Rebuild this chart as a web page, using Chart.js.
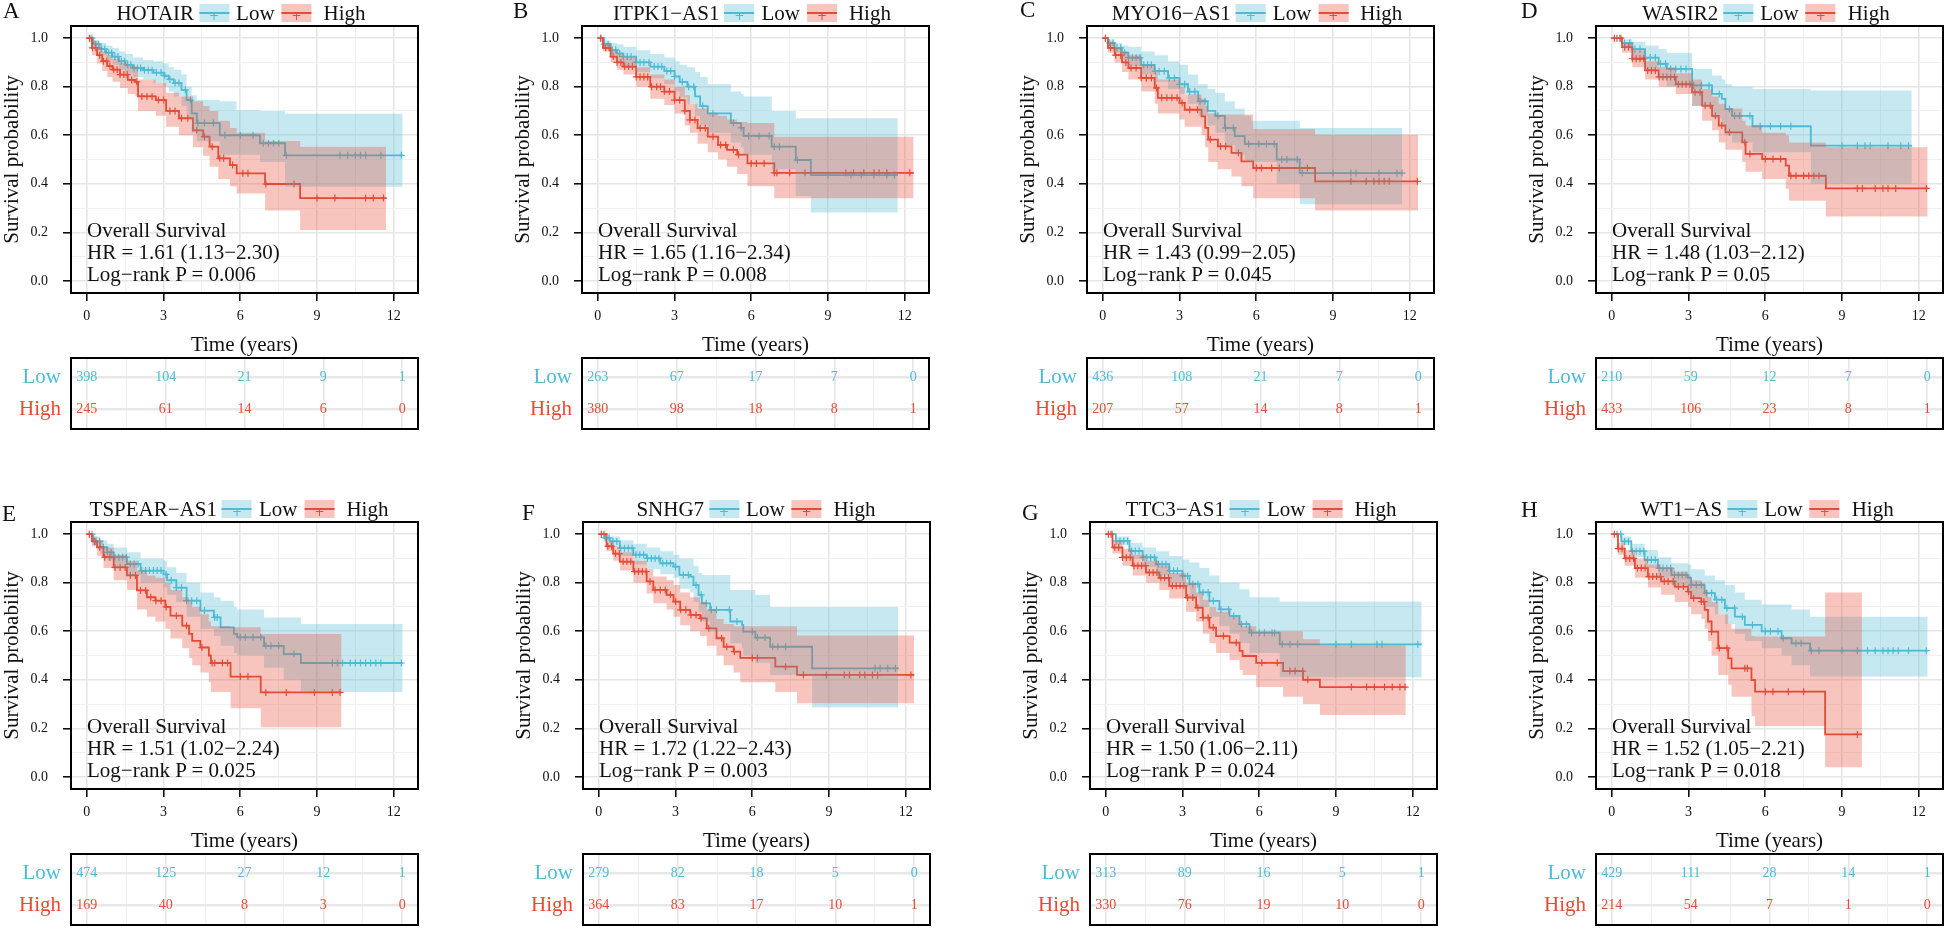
<!DOCTYPE html>
<html>
<head>
<meta charset="utf-8">
<script src="https://cdn.jsdelivr.net/npm/chart.js@4.4.1/dist/chart.umd.min.js"></script>
<style>
html, body { margin: 0; padding: 0; background: #fff; overflow: hidden; }
body { width: 1944px; height: 928px; position: relative; font-family: "Liberation Serif", "Times New Roman", serif; color: #111; }
canvas { position: absolute; }
.letter { position: absolute; font-size: 23px; line-height: 24px; }
.head { position: absolute; height: 26px; display: flex; align-items: center; font-size: 21px; white-space: nowrap; transform: translateX(-50%); }
.key { position: relative; display: inline-block; width: 30px; height: 18px; }
.key .ln { position: absolute; left: 0; right: 0; top: 8px; height: 2px; }
.key .pl { position: absolute; left: 0; right: 0; top: 3px; text-align: center; font: 12px "DejaVu Sans", sans-serif; line-height: 18px; }
.note { position: absolute; font-size: 21px; line-height: 22px; white-space: nowrap; }
</style>
</head>
<body>
<script>
// ---- data ----
const genes = ['HOTAIR', 'ITPK1−AS1', 'MYO16−AS1', 'WASIR2', 'TSPEAR−AS1', 'SNHG7', 'TTC3−AS1', 'WT1−AS'];
const letters = ['A', 'B', 'C', 'D', 'E', 'F', 'G', 'H'];
const hrText = ['1.61 (1.13−2.30)', '1.65 (1.16−2.34)', '1.43 (0.99−2.05)', '1.48 (1.03−2.12)',
                '1.51 (1.02−2.24)', '1.72 (1.22−2.43)', '1.50 (1.06−2.11)', '1.52 (1.05−2.21)'];
const pText = ['0.006', '0.008', '0.045', '0.05', '0.025', '0.003', '0.024', '0.018'];
const strata = ['Low', 'High'];

const riskTimes = [0, 3, 6, 9, 12];
const riskLow = [[398, 104, 21, 9, 1], [263, 67, 17, 7, 0], [436, 108, 21, 7, 0], [210, 59, 12, 7, 0],
                 [474, 125, 27, 12, 1], [279, 82, 18, 5, 0], [313, 89, 16, 5, 1], [429, 111, 28, 14, 1]];
const riskHigh = [[245, 61, 14, 6, 0], [380, 98, 18, 8, 1], [207, 57, 14, 8, 1], [433, 106, 23, 8, 1],
                  [169, 40, 8, 3, 0], [364, 83, 17, 10, 1], [330, 76, 19, 10, 0], [214, 54, 7, 1, 0]];

const xMajor = [0, 3, 6, 9, 12];
const xTickLabels = ['0', '3', '6', '9', '12'];
const xGrid = [0, 1.5, 3, 4.5, 6, 7.5, 9, 10.5, 12];
const yMajor = [0, 0.2, 0.4, 0.6, 0.8, 1.0];
const yTickLabels = ['0.0', '0.2', '0.4', '0.6', '0.8', '1.0'];
const yGrid = [0, 0.1, 0.2, 0.3, 0.4, 0.5, 0.6, 0.7, 0.8, 0.9, 1.0];

// curves: [time, survival, lower CI, upper CI]
const lowA = [[0,1,1,1],[0.25,0.975,0.955,0.99],[0.5,0.955,0.93,0.98],[0.75,0.94,0.91,0.97],[1.0,0.924,0.89,0.96],
  [1.25,0.905,0.87,0.945],[1.5,0.89,0.855,0.935],[1.8,0.877,0.84,0.92],[2.2,0.868,0.83,0.91],[2.6,0.858,0.815,0.905],
  [3.0,0.845,0.80,0.897],[3.2,0.83,0.78,0.88],[3.4,0.815,0.76,0.87],[3.7,0.787,0.72,0.85],[3.9,0.745,0.67,0.80],
  [4.1,0.69,0.61,0.765],[4.3,0.65,0.575,0.745],[5.2,0.60,0.52,0.74],[5.85,0.60,0.52,0.704],[6.77,0.567,0.49,0.70],
  [7.75,0.517,0.388,0.688],[12.35,0.517,0.388,0.688]];
const highA = [[0,1,1,1],[0.2,0.96,0.93,0.99],[0.4,0.93,0.895,0.965],[0.6,0.905,0.865,0.945],[0.8,0.885,0.84,0.93],
  [1.0,0.87,0.82,0.915],[1.3,0.85,0.795,0.9],[1.6,0.828,0.77,0.885],[1.9,0.82,0.76,0.88],[2.0,0.76,0.70,0.83],
  [2.7,0.745,0.68,0.815],[3.1,0.70,0.635,0.775],[3.6,0.67,0.60,0.76],[4.15,0.62,0.55,0.74],[4.55,0.594,0.515,0.72],
  [4.8,0.553,0.47,0.70],[5.14,0.505,0.42,0.66],[5.6,0.477,0.39,0.63],[5.86,0.443,0.36,0.61],[6.97,0.399,0.29,0.576],
  [8.34,0.341,0.21,0.553],[11.7,0.341,0.21,0.553]];
const lowB = [[0,1,1,1],[0.25,0.975,0.96,0.99],[0.5,0.952,0.93,0.98],[0.75,0.937,0.905,0.975],[1.0,0.924,0.885,0.965],
  [1.5,0.90,0.86,0.95],[2.05,0.883,0.835,0.935],[2.6,0.865,0.81,0.92],[3.0,0.842,0.78,0.905],[3.2,0.82,0.755,0.89],
  [3.5,0.80,0.73,0.88],[3.8,0.76,0.68,0.86],[4.0,0.72,0.64,0.84],[4.3,0.69,0.61,0.81],[5.2,0.65,0.57,0.78],
  [5.6,0.63,0.55,0.77],[5.7,0.597,0.52,0.76],[6.8,0.553,0.46,0.70],[7.74,0.498,0.35,0.67],[8.33,0.436,0.282,0.67],
  [11.73,0.436,0.282,0.67]];
const highB = [[0,1,1,1],[0.2,0.96,0.945,0.98],[0.5,0.924,0.9,0.95],[0.75,0.9,0.87,0.935],[1.0,0.883,0.85,0.92],
  [1.5,0.84,0.80,0.88],[2.05,0.80,0.75,0.85],[2.6,0.78,0.725,0.83],[3.0,0.745,0.69,0.80],[3.4,0.70,0.64,0.765],
  [3.6,0.663,0.61,0.73],[3.9,0.629,0.565,0.71],[4.3,0.594,0.53,0.69],[4.7,0.56,0.50,0.68],[5.05,0.54,0.47,0.665],
  [5.45,0.52,0.44,0.655],[5.85,0.484,0.39,0.65],[6.9,0.445,0.34,0.594],[12.35,0.445,0.34,0.594]];
const lowC = [[0,1,1,1],[0.2,0.98,0.97,0.995],[0.46,0.96,0.94,0.98],[0.75,0.94,0.91,0.97],[1.0,0.92,0.885,0.965],
  [1.5,0.89,0.85,0.945],[2.03,0.864,0.82,0.93],[2.55,0.836,0.79,0.905],[3.0,0.81,0.77,0.89],[3.33,0.78,0.73,0.85],
  [3.73,0.74,0.68,0.81],[4.1,0.70,0.64,0.79],[4.4,0.68,0.61,0.775],[4.77,0.63,0.56,0.74],[5.16,0.596,0.52,0.71],
  [5.55,0.564,0.49,0.68],[5.8,0.564,0.49,0.66],[6.8,0.50,0.40,0.66],[7.7,0.444,0.316,0.63],[11.7,0.444,0.316,0.63]];
const highC = [[0,1,1,1],[0.2,0.96,0.94,0.985],[0.46,0.93,0.9,0.96],[0.75,0.9,0.86,0.945],[1.0,0.877,0.83,0.93],
  [1.5,0.836,0.78,0.89],[2.03,0.795,0.73,0.86],[2.15,0.754,0.69,0.83],[3.0,0.733,0.665,0.80],[3.2,0.705,0.635,0.768],
  [3.86,0.678,0.60,0.75],[4.0,0.63,0.55,0.72],[4.12,0.582,0.49,0.69],[4.5,0.554,0.46,0.685],[5.03,0.527,0.43,0.685],
  [5.42,0.492,0.39,0.685],[5.88,0.465,0.34,0.626],[8.3,0.41,0.29,0.602],[12.33,0.41,0.29,0.602]];
const lowD = [[0,1,1,1],[0.4,0.98,0.96,0.995],[0.8,0.955,0.92,0.985],[1.3,0.92,0.87,0.97],[1.83,0.894,0.83,0.955],
  [2.15,0.873,0.80,0.94],[3.14,0.805,0.72,0.873],[3.92,0.77,0.67,0.846],[4.3,0.75,0.64,0.83],[4.44,0.708,0.60,0.81],
  [4.7,0.68,0.57,0.80],[5.5,0.637,0.53,0.79],[7.78,0.557,0.40,0.784],[11.73,0.557,0.40,0.784]];
const highD = [[0,1,1,1],[0.4,0.963,0.94,0.98],[0.8,0.915,0.88,0.95],[1.3,0.867,0.83,0.905],[1.83,0.84,0.80,0.88],
  [2.5,0.81,0.77,0.855],[3.14,0.777,0.72,0.83],[3.53,0.722,0.66,0.79],[3.92,0.68,0.62,0.76],[4.18,0.64,0.57,0.73],
  [4.44,0.612,0.54,0.71],[5.1,0.571,0.49,0.66],[5.23,0.523,0.45,0.64],[5.88,0.502,0.42,0.61],[6.8,0.475,0.38,0.60],
  [6.93,0.433,0.33,0.57],[8.37,0.381,0.265,0.55],[12.35,0.381,0.265,0.55]];
const lowE = [[0,1,1,1],[0.25,0.97,0.955,0.99],[0.52,0.946,0.92,0.975],[0.8,0.925,0.89,0.96],[1.05,0.905,0.865,0.945],
  [1.57,0.877,0.83,0.925],[2.1,0.85,0.80,0.90],[3.0,0.834,0.78,0.89],[3.14,0.81,0.75,0.864],[3.5,0.78,0.72,0.84],
  [3.9,0.726,0.66,0.80],[4.44,0.685,0.61,0.76],[4.97,0.657,0.58,0.74],[5.23,0.616,0.54,0.726],[5.75,0.589,0.51,0.70],
  [5.88,0.575,0.50,0.69],[6.93,0.54,0.45,0.657],[7.7,0.506,0.40,0.657],[8.37,0.469,0.35,0.63],[12.35,0.469,0.35,0.63]];
const highE = [[0,1,1,1],[0.2,0.97,0.95,0.99],[0.4,0.946,0.91,0.975],[0.65,0.905,0.86,0.945],[1.05,0.863,0.81,0.915],
  [1.57,0.83,0.77,0.89],[1.96,0.768,0.69,0.85],[2.35,0.74,0.66,0.83],[2.68,0.726,0.64,0.82],[3.07,0.70,0.61,0.80],
  [3.27,0.664,0.57,0.77],[3.73,0.623,0.53,0.74],[4.0,0.589,0.49,0.72],[4.12,0.56,0.46,0.70],[4.44,0.533,0.43,0.67],
  [4.77,0.50,0.39,0.64],[4.85,0.469,0.35,0.62],[5.62,0.413,0.283,0.616],[6.8,0.348,0.204,0.589],[9.96,0.348,0.204,0.589]];
const lowF = [[0,1,1,1],[0.2,0.985,0.97,0.995],[0.43,0.97,0.95,0.99],[0.82,0.942,0.91,0.975],[1.35,0.915,0.875,0.96],
  [1.87,0.90,0.855,0.945],[2.4,0.88,0.835,0.93],[2.92,0.866,0.82,0.915],[3.15,0.832,0.775,0.90],[3.57,0.825,0.76,0.90],
  [3.7,0.79,0.72,0.87],[3.9,0.75,0.68,0.84],[4.03,0.715,0.64,0.832],[4.35,0.688,0.60,0.832],[5.14,0.64,0.55,0.77],
  [5.6,0.626,0.53,0.77],[5.65,0.598,0.50,0.77],[6.12,0.574,0.47,0.75],[6.7,0.536,0.42,0.70],[8.34,0.447,0.286,0.70],
  [11.7,0.447,0.286,0.70]];
const highF = [[0,1,1,1],[0.3,0.95,0.93,0.97],[0.56,0.92,0.89,0.95],[0.82,0.887,0.85,0.925],[1.35,0.846,0.80,0.89],
  [1.87,0.805,0.755,0.855],[2.13,0.77,0.715,0.825],[2.65,0.75,0.69,0.81],[2.92,0.722,0.66,0.79],[3.18,0.688,0.625,0.76],
  [3.57,0.667,0.60,0.74],[3.96,0.653,0.58,0.72],[4.22,0.612,0.54,0.69],[4.6,0.571,0.50,0.65],[4.88,0.536,0.46,0.63],
  [5.27,0.516,0.43,0.62],[5.53,0.49,0.39,0.62],[6.9,0.454,0.35,0.62],[7.75,0.42,0.303,0.582],[12.33,0.42,0.303,0.582]];
const lowG = [[0,1,1,1],[0.39,0.972,0.955,0.99],[0.92,0.931,0.9,0.965],[1.44,0.904,0.865,0.945],[1.96,0.876,0.83,0.93],
  [2.48,0.849,0.80,0.91],[3.0,0.828,0.78,0.895],[3.27,0.794,0.74,0.883],[3.66,0.76,0.70,0.86],[4.05,0.725,0.66,0.83],
  [4.44,0.69,0.62,0.80],[4.84,0.663,0.59,0.80],[5.23,0.629,0.55,0.773],[5.62,0.594,0.51,0.74],[6.8,0.546,0.41,0.722],
  [12.35,0.546,0.41,0.722]];
const highG = [[0,1,1,1],[0.26,0.945,0.92,0.97],[0.65,0.904,0.87,0.94],[1.05,0.87,0.83,0.915],[1.57,0.842,0.80,0.89],
  [2.09,0.82,0.77,0.87],[2.48,0.787,0.735,0.84],[3.14,0.739,0.68,0.80],[3.53,0.697,0.64,0.76],[3.79,0.656,0.59,0.73],
  [4.05,0.615,0.55,0.70],[4.31,0.58,0.51,0.68],[4.84,0.553,0.48,0.66],[5.23,0.519,0.44,0.63],[5.35,0.498,0.42,0.62],
  [5.88,0.47,0.37,0.60],[6.93,0.436,0.33,0.60],[7.71,0.40,0.30,0.567],[8.37,0.37,0.255,0.542],[11.73,0.37,0.255,0.542]];
const lowH = [[0,1,1,1],[0.37,0.97,0.955,0.99],[0.76,0.93,0.905,0.96],[1.28,0.894,0.86,0.935],[1.8,0.86,0.82,0.905],
  [2.33,0.832,0.79,0.88],[2.98,0.82,0.77,0.875],[3.1,0.79,0.74,0.855],[3.63,0.757,0.70,0.83],[4.03,0.73,0.67,0.81],
  [4.42,0.695,0.63,0.79],[4.81,0.66,0.59,0.76],[5.2,0.626,0.56,0.73],[5.86,0.60,0.53,0.71],[6.64,0.571,0.50,0.71],
  [7.03,0.55,0.46,0.69],[7.75,0.52,0.413,0.66],[12.35,0.52,0.413,0.66]];
const highH = [[0,1,1,1],[0.24,0.94,0.915,0.965],[0.5,0.90,0.87,0.935],[0.9,0.86,0.82,0.90],[1.41,0.825,0.78,0.875],
  [1.93,0.805,0.75,0.86],[2.46,0.784,0.72,0.845],[2.98,0.763,0.70,0.83],[3.1,0.736,0.67,0.81],[3.5,0.722,0.65,0.80],
  [3.63,0.688,0.61,0.77],[3.76,0.64,0.56,0.74],[3.9,0.598,0.50,0.72],[4.16,0.53,0.42,0.67],[4.55,0.488,0.38,0.63],
  [4.68,0.447,0.33,0.61],[5.46,0.399,0.25,0.58],[5.6,0.351,0.21,0.578],[8.34,0.175,0.04,0.76],[9.78,0.175,0.04,0.76]];

// censored times
const cLowA = [0.12,0.2,0.33,0.45,0.58,0.7,0.85,0.97,1.1,1.22,1.35,1.48,1.6,1.72,1.85,1.98,2.1,2.25,2.4,2.55,2.72,2.9,3.05,3.25,3.45,3.6,3.85,4.05,4.35,4.6,4.95,5.4,6.0,6.5,6.9,7.1,7.3,7.5,7.8,9.9,10.2,10.5,10.7,10.9,11.5,12.3];
const cHighA = [0.1,0.22,0.35,0.5,0.65,0.78,0.9,1.05,1.18,1.3,1.45,1.58,1.75,1.95,2.15,2.35,2.55,2.8,3.0,3.25,3.45,3.7,3.95,4.3,4.6,4.9,5.2,5.35,5.7,6.1,6.3,7.0,8.1,9.0,9.7,10.9,11.2,11.6];
const cLowB = [0.1,0.25,0.4,0.55,0.7,0.85,1.0,1.15,1.3,1.5,1.65,1.8,2.0,2.2,2.35,2.5,2.7,2.85,3.0,3.3,3.55,3.75,4.1,4.5,5.3,5.6,5.9,6.3,6.7,6.9,7.1,7.8,9.0,9.9,10.3,10.8,11.3,11.6];
const cHighB = [0.12,0.3,0.45,0.6,0.75,0.9,1.05,1.2,1.35,1.5,1.65,1.8,1.95,2.1,2.3,2.45,2.6,2.8,3.0,3.2,3.4,3.6,3.8,4.0,4.2,4.5,4.8,5.0,5.3,5.5,6.0,6.2,6.5,6.9,7.0,7.5,8.1,9.7,10.0,10.4,10.8,11.0,11.3,12.2];
const cLowC = [0.1,0.25,0.4,0.55,0.7,0.85,1.0,1.15,1.3,1.45,1.6,1.75,1.9,2.05,2.2,2.4,2.6,2.8,3.0,3.2,3.4,3.6,3.8,4.0,4.5,4.8,5.1,5.7,6.1,6.4,6.7,7.0,7.2,7.6,7.8,9.0,9.7,9.9,10.8,11.5,11.7];
const cHighC = [0.1,0.3,0.5,0.7,0.9,1.1,1.3,1.5,1.7,1.9,2.1,2.3,2.5,2.7,2.9,3.1,3.4,3.7,4.2,4.6,4.8,5.3,6.0,6.2,6.6,6.9,8.0,9.7,10.3,10.6,10.8,11.0,11.2,12.3];
const cLowD = [0.1,0.3,0.5,0.7,0.9,1.1,1.3,1.5,1.7,1.9,2.1,2.3,2.5,2.7,2.9,3.2,3.5,3.8,4.2,4.6,4.8,5.0,5.4,5.8,6.2,6.6,7.0,9.0,9.6,9.9,10.1,10.8,11.3,11.6];
const cHighD = [0.1,0.2,0.35,0.5,0.65,0.8,0.95,1.1,1.25,1.4,1.55,1.7,1.85,2.0,2.15,2.3,2.45,2.6,2.75,2.9,3.05,3.25,3.45,3.65,3.85,4.05,4.3,4.6,5.2,5.4,6.0,6.3,6.6,7.0,7.2,7.5,7.7,7.9,8.1,9.6,9.8,10.3,10.6,10.8,11.1,12.3];
const cLowE = [0.1,0.2,0.35,0.5,0.65,0.8,0.95,1.1,1.25,1.4,1.55,1.7,1.85,2.0,2.15,2.3,2.45,2.6,2.75,2.9,3.1,3.3,3.5,3.7,3.9,4.1,4.3,4.6,5.0,5.1,6.0,6.2,6.5,6.8,7.0,7.2,7.5,8.1,9.6,9.8,10.0,10.3,10.5,10.7,10.9,11.1,11.3,11.5,12.3];
const cHighE = [0.1,0.3,0.5,0.7,0.9,1.1,1.3,1.5,1.7,1.9,2.1,2.3,2.5,2.7,2.9,3.1,3.5,3.9,4.5,4.9,5.0,5.3,5.5,6.0,6.3,7.0,7.8,8.9,9.6,9.9];
const cLowF = [0.1,0.25,0.4,0.55,0.7,0.85,1.0,1.15,1.3,1.45,1.6,1.75,1.9,2.05,2.2,2.35,2.5,2.65,2.8,3.0,3.3,3.5,3.8,4.0,4.2,4.4,4.6,5.1,5.4,6.0,6.2,6.5,6.8,7.0,7.3,10.8,11.0,11.3,11.6];
const cHighF = [0.1,0.2,0.35,0.5,0.65,0.8,0.95,1.1,1.25,1.4,1.55,1.7,1.85,2.0,2.2,2.4,2.6,2.8,3.0,3.2,3.4,3.6,3.8,4.0,4.3,4.8,5.0,5.3,6.0,6.2,7.3,8.0,8.9,9.6,9.8,10.2,10.4,10.7,10.9,12.2];
const cLowG = [0.1,0.25,0.4,0.55,0.7,0.85,1.0,1.15,1.3,1.45,1.6,1.75,1.9,2.05,2.2,2.35,2.5,2.65,2.8,3.0,3.2,3.4,3.6,3.8,4.0,4.2,4.5,4.8,5.0,5.3,5.5,5.7,6.0,6.2,6.5,6.6,6.9,7.2,7.5,9.0,9.6,10.6,10.8,12.2];
const cHighG = [0.1,0.2,0.35,0.5,0.65,0.8,0.95,1.1,1.25,1.4,1.55,1.7,1.85,2.0,2.15,2.3,2.45,2.6,2.75,2.9,3.05,3.2,3.4,3.6,3.8,4.0,4.2,4.6,5.1,6.1,6.7,7.2,7.4,7.7,7.9,9.6,10.2,10.5,10.9,11.2,11.5,11.7];
const cLowH = [0.1,0.2,0.35,0.5,0.65,0.8,0.95,1.1,1.25,1.4,1.55,1.7,1.85,2.0,2.15,2.3,2.45,2.6,2.75,2.9,3.1,3.3,3.5,3.7,3.9,4.1,4.3,4.5,4.8,5.1,5.5,6.0,6.2,6.5,6.7,7.2,7.4,7.8,8.1,9.0,9.6,10.0,10.3,10.6,10.8,11.0,11.2,11.6,12.3];
const cHighH = [0.1,0.25,0.4,0.55,0.7,0.85,1.0,1.15,1.3,1.45,1.6,1.75,1.9,2.05,2.2,2.4,2.6,2.8,3.0,3.2,3.5,3.6,3.9,4.2,4.5,5.2,5.3,6.0,6.3,6.9,7.5,9.6];

const lowCurves = [lowA, lowB, lowC, lowD, lowE, lowF, lowG, lowH];
const highCurves = [highA, highB, highC, highD, highE, highF, highG, highH];
const lowCens = [cLowA, cLowB, cLowC, cLowD, cLowE, cLowF, cLowG, cLowH];
const highCens = [cHighA, cHighB, cHighC, cHighD, cHighE, cHighF, cHighG, cHighH];

// ---- layout ----
const originX = [0, 511, 1016, 1525, 0, 512, 1019, 1525];
const originY = [0, 0, 0, 0, 496, 496, 496, 496];
const headX = [241, 752, 1257, 1766, 239, 756, 1261, 1767];
const letterX = [3, 513, 1020, 1521, 2, 522, 1022, 1521];
const letterY = [-1, -1, -2, -1, 502, 501, 501, 498];

const LOW = '#4DBBD5', HIGH = '#E64B35';
const LOW_FILL = 'rgba(77,187,213,0.32)', HIGH_FILL = 'rgba(230,75,53,0.32)';
const SERIF = '"Liberation Serif", "Times New Roman", serif';
const near = (a, b) => Math.abs(a - b) < 1e-9;

function survAt(rows, t) {
    let s = rows[0][1];
    for (const r of rows) { if (r[0] <= t) s = r[1]; else break; }
    return s;
}

const framePlugin = {
    id: 'frame',
    afterDraw(chart) {
        const { ctx, chartArea: a } = chart;
        ctx.save();
        ctx.strokeStyle = '#000';
        ctx.lineWidth = 2;
        ctx.strokeRect(a.left, a.top, a.right - a.left, a.bottom - a.top);
        ctx.restore();
    }
};

const riskTextPlugin = {
    id: 'riskText',
    afterDatasetsDraw(chart) {
        const ctx = chart.ctx;
        chart.data.datasets.forEach((ds, i) => {
            const meta = chart.getDatasetMeta(i);
            ctx.save();
            ctx.fillStyle = ds.textColor;
            ctx.font = '14px ' + SERIF;
            ctx.textAlign = 'center';
            ctx.textBaseline = 'middle';
            meta.data.forEach((pt, j) => ctx.fillText(String(ds.data[j].n), pt.x, pt.y));
            ctx.restore();
        });
    }
};

function gridColor(isMajor) { return isMajor ? '#E6E6E6' : '#F1F1F1'; }

function makeCanvas(x, y, w, h) {
    const c = document.createElement('canvas');
    c.width = w; c.height = h;
    c.style.left = x + 'px'; c.style.top = y + 'px';
    c.style.width = w + 'px'; c.style.height = h + 'px';
    document.body.appendChild(c);
    return c;
}

function kmChart(p) {
    const low = lowCurves[p], high = highCurves[p];
    const pts = (rows, k) => rows.map(r => ({ x: r[0], y: r[k] }));
    // 'before': hold the previous value, then drop at the new time
    const band = (rows, k, fill, color, order) => ({
        data: pts(rows, k), stepped: 'before', borderWidth: 0, borderColor: 'rgba(0,0,0,0)',
        pointRadius: 0, fill: fill, backgroundColor: color, order: order
    });
    const line = (rows, color) => ({
        data: pts(rows, 1), stepped: 'before', borderColor: color, borderWidth: 1.8,
        pointRadius: 0, fill: false, order: 2
    });
    const marks = (cens, rows, color) => ({
        data: cens.map(t => ({ x: t, y: survAt(rows, t) })), showLine: false,
        pointStyle: 'cross', pointRadius: 3.5, borderColor: color, borderWidth: 1.2, order: 3
    });

    const canvas = makeCanvas(originX[p], originY[p], 426, 359);
    new Chart(canvas, {
        type: 'line',
        data: {
            datasets: [
                band(high, 3, '+1', HIGH_FILL, 0),
                band(high, 2, false, HIGH_FILL, 0),
                band(low, 3, '+1', LOW_FILL, 1),
                band(low, 2, false, LOW_FILL, 1),
                line(high, HIGH),
                line(low, LOW),
                marks(highCens[p], high, HIGH),
                marks(lowCens[p], low, LOW)
            ]
        },
        options: {
            responsive: false,
            devicePixelRatio: 1,
            animation: false,
            events: [],
            layout: { padding: { top: 26, right: 8, left: 0, bottom: 0 } },
            plugins: { legend: { display: false }, tooltip: { enabled: false } },
            scales: {
                x: {
                    type: 'linear', min: -0.62, max: 12.95,
                    afterBuildTicks: ax => { ax.ticks = xGrid.map(v => ({ value: v })); },
                    afterFit: ax => { ax.height = 66; },
                    border: { display: false },
                    grid: {
                        color: c => gridColor(xMajor.some(v => near(v, c.tick.value))),
                        lineWidth: c => xMajor.some(v => near(v, c.tick.value)) ? 1.6 : 1,
                        tickColor: c => xMajor.some(v => near(v, c.tick.value)) ? '#000' : 'rgba(0,0,0,0)',
                        tickLength: 8, tickWidth: 1.5
                    },
                    ticks: {
                        autoSkip: false, maxRotation: 0, padding: 7, color: '#111',
                        font: { family: SERIF, size: 14 },
                        callback: v => { const i = xMajor.findIndex(m => near(m, v)); return i >= 0 ? xTickLabels[i] : ''; }
                    },
                    title: { display: true, text: 'Time (years)', color: '#111', font: { family: SERIF, size: 21 }, padding: { top: 0, bottom: 1 } }
                },
                y: {
                    type: 'linear', min: -0.05, max: 1.05,
                    afterBuildTicks: ax => { ax.ticks = yGrid.map(v => ({ value: v })); },
                    afterFit: ax => { ax.width = 71; },
                    border: { display: false },
                    grid: {
                        color: c => gridColor(yMajor.some(v => near(v, c.tick.value))),
                        lineWidth: c => yMajor.some(v => near(v, c.tick.value)) ? 1.6 : 1,
                        tickColor: c => yMajor.some(v => near(v, c.tick.value)) ? '#000' : 'rgba(0,0,0,0)',
                        tickLength: 8, tickWidth: 1.5
                    },
                    ticks: {
                        autoSkip: false, padding: 15, color: '#111',
                        font: { family: SERIF, size: 14 },
                        callback: v => { const i = yMajor.findIndex(m => near(m, v)); return i >= 0 ? yTickLabels[i] : ''; }
                    },
                    title: { display: true, text: 'Survival probability', color: '#111', font: { family: SERIF, size: 21 }, padding: { top: 0, bottom: 0 } }
                }
            }
        },
        plugins: [framePlugin]
    });
}

function riskChart(p) {
    const canvas = makeCanvas(originX[p], originY[p] + 334, 426, 119);
    new Chart(canvas, {
        type: 'scatter',
        data: {
            datasets: [
                { data: riskTimes.map((t, j) => ({ x: t, y: 1, n: riskLow[p][j] })), pointRadius: 0, textColor: LOW },
                { data: riskTimes.map((t, j) => ({ x: t, y: 2, n: riskHigh[p][j] })), pointRadius: 0, textColor: HIGH }
            ]
        },
        options: {
            responsive: false,
            devicePixelRatio: 1,
            animation: false,
            events: [],
            layout: { padding: { top: 24, right: 8, left: 0, bottom: 24 } },
            plugins: { legend: { display: false }, tooltip: { enabled: false } },
            scales: {
                x: {
                    type: 'linear', min: -0.6, max: 12.6,
                    afterBuildTicks: ax => { ax.ticks = xGrid.map(v => ({ value: v })); },
                    afterFit: ax => { ax.height = 0; },
                    border: { display: false },
                    grid: {
                        drawTicks: false,
                        color: c => gridColor(xMajor.some(v => near(v, c.tick.value))),
                        lineWidth: c => xMajor.some(v => near(v, c.tick.value)) ? 1.6 : 1
                    },
                    ticks: { display: false }
                },
                y: {
                    type: 'linear', min: 0.4, max: 2.6, reverse: true,
                    afterBuildTicks: ax => { ax.ticks = [1, 2].map(v => ({ value: v })); },
                    afterFit: ax => { ax.width = 71; },
                    border: { display: false },
                    grid: { drawTicks: false, color: '#E8E8E8', lineWidth: 2.5 },
                    ticks: {
                        padding: 10,
                        font: { family: SERIF, size: 21 },
                        color: c => c.tick.value === 1 ? LOW : HIGH,
                        callback: v => strata[v - 1]
                    }
                }
            }
        },
        plugins: [framePlugin, riskTextPlugin]
    });
}

function keyHtml(color, fill, gap) {
    return '<span class="key" style="background:' + fill + ';margin-right:' + gap + 'px">' +
        '<span class="ln" style="background:' + color + '"></span>' +
        '<span class="pl" style="color:' + color + '">+</span></span>';
}

function addText(p) {
    const letter = document.createElement('div');
    letter.className = 'letter';
    letter.style.left = letterX[p] + 'px';
    letter.style.top = letterY[p] + 'px';
    letter.textContent = letters[p];
    document.body.appendChild(letter);

    const head = document.createElement('div');
    head.className = 'head';
    head.style.left = headX[p] + 'px';
    head.style.top = originY[p] + 'px';
    head.innerHTML = '<span style="margin-right:5px">' + genes[p] + '</span>' +
        keyHtml(LOW, LOW_FILL, 7) + '<span style="margin-right:7px">' + strata[0] + '</span>' +
        keyHtml(HIGH, HIGH_FILL, 12) + '<span>' + strata[1] + '</span>';
    document.body.appendChild(head);

    const note = document.createElement('div');
    note.className = 'note';
    note.style.left = (originX[p] + 87) + 'px';
    note.style.top = (originY[p] + 219) + 'px';
    note.innerHTML = 'Overall Survival<br>HR = ' + hrText[p] + '<br>Log−rank P = ' + pText[p];
    document.body.appendChild(note);
}

for (let p = 0; p < 8; p++) {
    kmChart(p);
    riskChart(p);
    addText(p);
}
</script>
</body>
</html>
